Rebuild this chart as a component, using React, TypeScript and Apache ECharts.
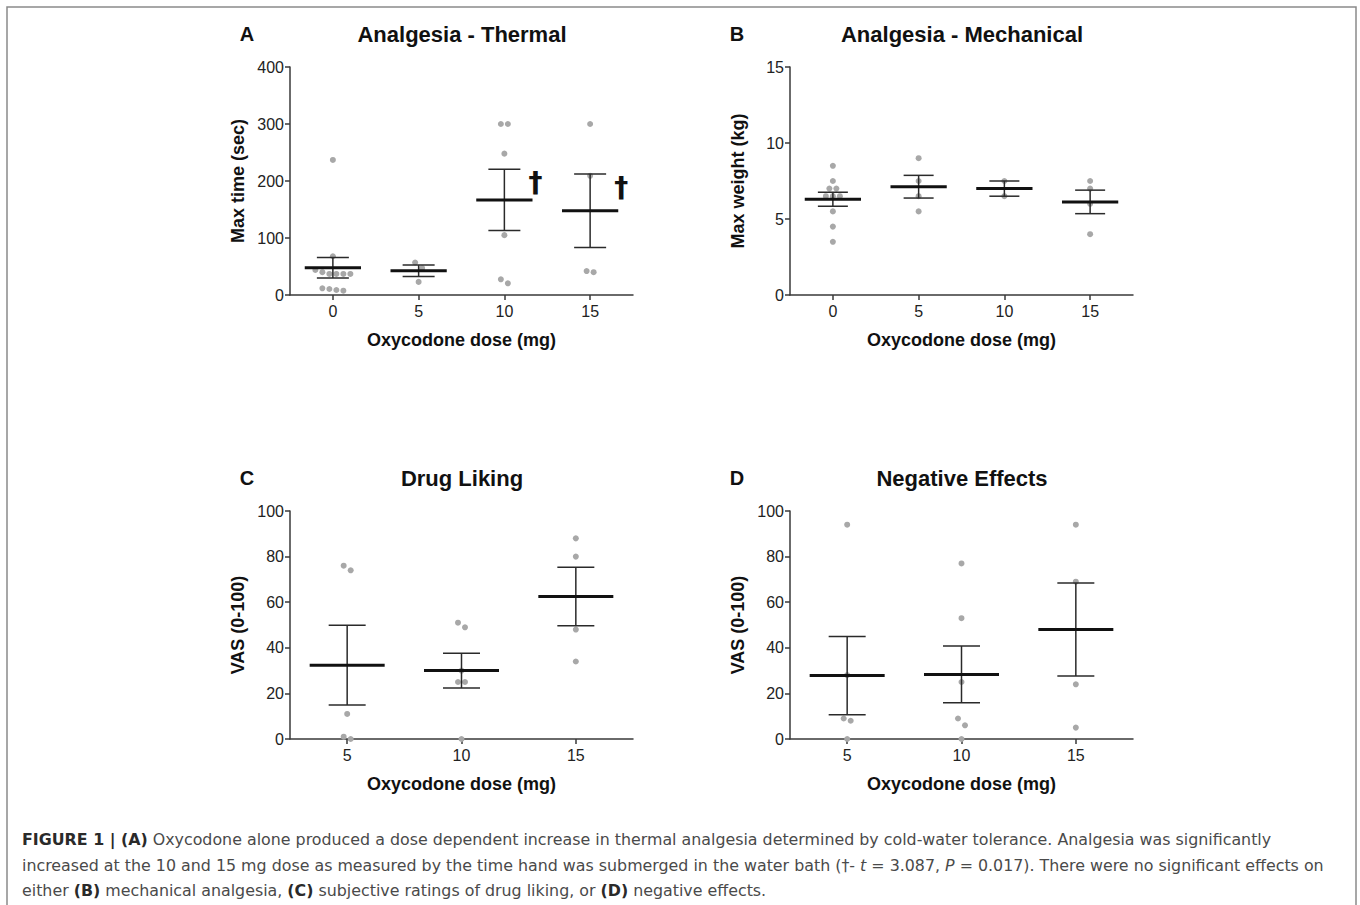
import React, { useEffect, useRef } from "react";
import * as echarts from "echarts";

// ---------- data ----------
const thermalDoses = [0, 5, 10, 15];
const thermalTimes = [
  [237, 68, 44, 40, 37, 37, 37, 37, 11.7, 10.5, 8.8, 7.6],
  [57, 47, 23],
  [300, 300, 248, 105, 27.5, 20.5],
  [300, 209, 42, 40],
];
const thermalSignificant = [false, false, true, true];

const mechanicalDoses = [0, 5, 10, 15];
const mechanicalWeights = [
  [8.5, 7.5, 7, 7, 6.5, 6.5, 6.5, 5.5, 4.5, 3.5],
  [9, 7.5, 6.5, 5.5],
  [7.5, 6.5],
  [7.5, 7, 6, 4],
];

const likingDoses = [5, 10, 15];
const likingScores = [
  [76, 74, 11, 1, 0],
  [51, 49, 30, 25, 25, 0],
  [88, 80, 48, 34],
];

const negativeDoses = [5, 10, 15];
const negativeScores = [
  [94, 28, 9, 8, 0],
  [77, 53, 25, 9, 6, 0],
  [94, 69, 24, 5],
];

const xAxisTitle = "Oxycodone dose (mg)";

const FONT = "'Liberation Sans', Arial, Helvetica, sans-serif";
const CAPTION_FONT = "'DejaVu Sans', 'Liberation Sans', sans-serif";
const CAPTION_SIZE = 15.85;

// ---------- helpers ----------
function meanSem(vals: number[]) {
  const n = vals.length;
  const m = vals.reduce((a, b) => a + b, 0) / n;
  const v = vals.reduce((a, b) => a + (b - m) * (b - m), 0) / (n - 1);
  return [m, Math.sqrt(v) / Math.sqrt(n)];
}

function jitterPoints(doses: number[], groups: number[][], yRange: number, xRange: number, gridW: number) {
  const spacing = (7 * xRange) / gridW;
  const pts: number[][] = [];
  groups.forEach((g, gi) => {
    const sorted = [...g].sort((a, b) => b - a);
    const clusters: number[][] = [];
    sorted.forEach((v) => {
      const last = clusters[clusters.length - 1];
      if (last && Math.abs(last[last.length - 1] - v) <= 0.032 * yRange) last.push(v);
      else clusters.push([v]);
    });
    clusters.forEach((c) => {
      const n = c.length;
      c.forEach((v, i) => pts.push([doses[gi] + (i - (n - 1) / 2) * spacing, v]));
    });
  });
  return pts;
}

const GRID_W = 343;
const GRID_H = 228;

function buildPanel(
  idx: number,
  left: number,
  top: number,
  doses: number[],
  groups: number[][],
  xMin: number,
  xMax: number,
  yMax: number,
  yInterval: number,
  yName: string,
  capPx: number,
  significant?: boolean[]
) {
  const grid = { left, top, width: GRID_W, height: GRID_H, containLabel: false };
  const axisColor = "#3a3a3a";
  const xAxis = {
    type: "value",
    gridIndex: idx,
    min: xMin,
    max: xMax,
    splitLine: { show: false },
    axisLine: { show: true, onZero: false, lineStyle: { color: axisColor, width: 1.5 } },
    axisTick: { show: true, length: 5, customValues: doses, lineStyle: { color: axisColor, width: 1.5 } },
    axisLabel: { customValues: doses, fontSize: 16, color: "#222", margin: 8, fontFamily: FONT },
    name: xAxisTitle,
    nameLocation: "middle",
    nameGap: 36,
    nameTextStyle: { fontSize: 18, fontWeight: "bold", color: "#111", fontFamily: FONT },
  };
  const yAxis = {
    type: "value",
    gridIndex: idx,
    min: 0,
    max: yMax,
    interval: yInterval,
    splitLine: { show: false },
    axisLine: { show: true, onZero: false, lineStyle: { color: axisColor, width: 1.5 } },
    axisTick: { show: true, length: 5, lineStyle: { color: axisColor, width: 1.5 } },
    axisLabel: { fontSize: 16, color: "#222", margin: 6, fontFamily: FONT },
    name: yName,
    nameLocation: "middle",
    nameGap: 43,
    nameTextStyle: { fontSize: 18, fontWeight: "bold", color: "#111", fontFamily: FONT },
  };
  const pts = jitterPoints(doses, groups, yMax, xMax - xMin, GRID_W);
  const scatter = {
    type: "scatter",
    xAxisIndex: idx,
    yAxisIndex: idx,
    data: pts,
    symbolSize: 6,
    itemStyle: { color: "#a8a8a8", opacity: 1 },
    z: 2,
    silent: true,
  };
  const summary = groups.map((g, i) => {
    const [m, s] = meanSem(g);
    return [doses[i], m, m - s, m + s, significant && significant[i] ? 1 : 0];
  });
  const bars = {
    type: "custom",
    xAxisIndex: idx,
    yAxisIndex: idx,
    data: summary,
    encode: { x: 0, y: 1 },
    z: 5,
    silent: true,
    renderItem: (params: any, api: any) => {
      const x = api.value(0);
      const m = api.value(1);
      const lo = api.value(2);
      const hi = api.value(3);
      const pm = api.coord([x, m]);
      const plo = api.coord([x, lo]);
      const phi = api.coord([x, hi]);
      const half = api.size([1.64, 0])[0];
      const thin = { stroke: "#2a2a2a", lineWidth: 1.5 };
      const children: any[] = [
        { type: "line", shape: { x1: pm[0], y1: plo[1], x2: pm[0], y2: phi[1] }, style: thin },
        { type: "line", shape: { x1: pm[0] - capPx, y1: plo[1], x2: pm[0] + capPx, y2: plo[1] }, style: thin },
        { type: "line", shape: { x1: pm[0] - capPx, y1: phi[1], x2: pm[0] + capPx, y2: phi[1] }, style: thin },
        { type: "line", shape: { x1: pm[0] - half, y1: pm[1], x2: pm[0] + half, y2: pm[1] }, style: { stroke: "#111", lineWidth: 3 } },
      ];
      if (api.value(4)) {
        children.push({
          type: "text",
          x: pm[0] + half + 3,
          y: phi[1] - 1,
          style: {
            text: "†",
            fontSize: 28,
            fontWeight: "bold",
            fontFamily: "'DejaVu Sans', sans-serif",
            fill: "#111",
            align: "center",
            textAlign: "center",
            verticalAlign: "top",
            textVerticalAlign: "top",
          },
        });
      }
      return { type: "group", children };
    },
  };
  return { grid, xAxis, yAxis, series: [scatter, bars] };
}

function txt(x: number, y: number, text: string, size: number, weight = "bold", color = "#111", align = "center") {
  return {
    type: "text",
    x,
    y,
    style: {
      text,
      fontSize: size,
      fontWeight: weight,
      fontFamily: FONT,
      fill: color,
      align,
      textAlign: align,
      verticalAlign: "middle",
      textVerticalAlign: "middle",
    },
  };
}

const captionRich = {
  b: { fontWeight: "bold", fontSize: CAPTION_SIZE, fontFamily: CAPTION_FONT, fill: "#2a2a2a", color: "#2a2a2a" },
  r: { fontSize: CAPTION_SIZE, fontFamily: CAPTION_FONT, fill: "#4a4a4a", color: "#4a4a4a" },
  i: { fontStyle: "italic", fontSize: CAPTION_SIZE, fontFamily: CAPTION_FONT, fill: "#4a4a4a", color: "#4a4a4a" },
};

function captionLine(y: number, text: string) {
  return {
    type: "text",
    x: 22,
    y,
    style: {
      text,
      rich: captionRich,
      fontSize: CAPTION_SIZE,
      fontFamily: CAPTION_FONT,
      fill: "#4a4a4a",
      align: "left",
      textAlign: "left",
      verticalAlign: "middle",
      textVerticalAlign: "middle",
    },
  };
}

export default function App() {
  const ref = useRef<HTMLDivElement>(null);
  useEffect(() => {
    if (!ref.current) return;
    const chart = echarts.init(ref.current, undefined, { renderer: "svg" });
    const panels = [
      buildPanel(0, 290, 67, thermalDoses, thermalTimes, -2.5, 17.5, 400, 100, "Max time (sec)", 16, thermalSignificant),
      buildPanel(1, 790, 67, mechanicalDoses, mechanicalWeights, -2.5, 17.5, 15, 5, "Max weight (kg)", 15),
      buildPanel(2, 290, 511, likingDoses, likingScores, 2.5, 17.5, 100, 20, "VAS (0-100)", 18.5),
      buildPanel(3, 790, 511, negativeDoses, negativeScores, 2.5, 17.5, 100, 20, "VAS (0-100)", 18.5),
    ];
    chart.setOption({
      animation: false,
      backgroundColor: "#fff",
      textStyle: { fontFamily: FONT },
      grid: panels.map((p) => p.grid),
      xAxis: panels.map((p) => p.xAxis),
      yAxis: panels.map((p) => p.yAxis),
      series: panels.flatMap((p) => p.series),
      graphic: [
        {
          type: "rect",
          shape: { x: 7, y: 7, width: 1349, height: 940 },
          style: { fill: "none", stroke: "#8a8a8a", lineWidth: 1.5 },
          silent: true,
        },
        txt(247, 34, "A", 20),
        txt(737, 34, "B", 20),
        txt(247, 478, "C", 20),
        txt(737, 478, "D", 20),
        txt(462, 34, "Analgesia - Thermal", 22),
        txt(962, 34, "Analgesia - Mechanical", 22),
        txt(462, 478, "Drug Liking", 22),
        txt(962, 478, "Negative Effects", 22),
        captionLine(839, "{b|FIGURE 1 | (A)}{r| Oxycodone alone produced a dose dependent increase in thermal analgesia determined by cold-water tolerance. Analgesia was significantly}"),
        captionLine(865, "{r|increased at the 10 and 15 mg dose as measured by the time hand was submerged in the water bath (†- }{i|t}{r| = 3.087, }{i|P}{r| = 0.017). There were no significant effects on}"),
        captionLine(890, "{r|either }{b|(B)}{r| mechanical analgesia, }{b|(C)}{r| subjective ratings of drug liking, or }{b|(D)}{r| negative effects.}"),
      ],
    });
    return () => chart.dispose();
  }, []);
  return (
    <div
      ref={ref}
      style={{ position: "fixed", left: 0, top: 0, width: 1360, height: 905, background: "#fff" }}
    />
  );
}
